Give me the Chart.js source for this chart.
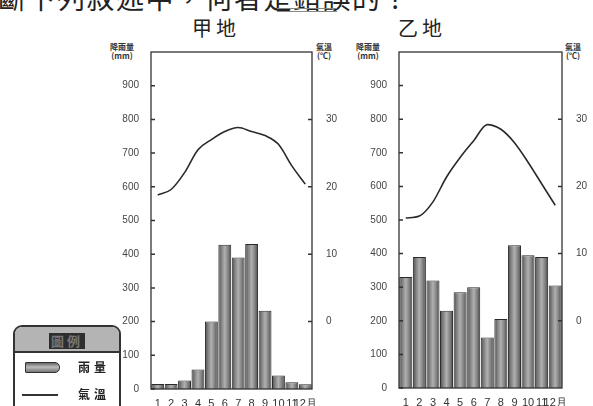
<!DOCTYPE html>
<html lang="zh-Hant">
<head>
  <meta charset="UTF-8" />
  <title>甲地 乙地 氣候圖</title>
  <script src="https://cdn.jsdelivr.net/npm/chart.js"></script>
  <style>
    body { margin: 0; width: 593px; height: 406px; position: relative; overflow: hidden;
           background: #fff; color: #222; font-family: "Noto Sans CJK TC", sans-serif; }
    .abs { position: absolute; white-space: nowrap; }
    .question { left: -2px; top: -17px; font-size: 28px; line-height: 28px; letter-spacing: 1.5px; }
    .uline { left: 277px; top: 8px; width: 60px; height: 2px; border-top: 1px solid #888; border-bottom: 1px solid #888; }
    .place { font-size: 20px; line-height: 20px; top: 18px; letter-spacing: 4px; }
    .unit { font-size: 8px; line-height: 9px; font-weight: bold; color: #333; text-align: center; }
    canvas { position: absolute; }
    .legend { left: 13px; top: 325px; width: 104px; height: 90px; border: 2px solid #333;
              border-radius: 9px; overflow: hidden; }
    .lg-head { height: 24px; background: #b4b4b4; border-bottom: 2px solid #333; text-align: center; }
    .lg-head span { display: inline-block; margin-top: 4px; background: #2e2e2e; color: #777;
                    font-size: 13px; line-height: 16px; padding: 0 2px; letter-spacing: 3px; font-weight: bold; }
    .lg-row { position: absolute; left: 0; width: 104px; height: 16px; font-size: 12px; font-weight: bold; }
    .lg-row .txt { position: absolute; left: 63px; top: -1px; letter-spacing: 4px; }
    .sw-bar { position: absolute; left: 10px; top: 3px; width: 33px; height: 9px; border: 1px solid #333;
              border-radius: 1px 5px 5px 1px; background: linear-gradient(#666, #bbb 45%, #777); }
    .sw-line { position: absolute; left: 7px; top: 8px; width: 36px; height: 0; border-top: 2px solid #333; }
  </style>
</head>
<body>
  <div class="abs question">斷下列敘述中，何者是錯誤的？</div>
  <div class="abs uline"></div>

  <div class="abs place" style="left:192px;">甲地</div>
  <div class="abs place" style="left:398px;">乙地</div>

  <div class="abs unit" style="left:110px; top:42px;">降雨量<br>(mm)</div>
  <div class="abs unit" style="left:316px; top:42px;">氣溫<br>(℃)</div>
  <div class="abs unit" style="left:356px; top:42px;">降雨量<br>(mm)</div>
  <div class="abs unit" style="left:565px; top:42px;">氣溫<br>(℃)</div>

  <canvas id="jiaChart" width="260" height="366" style="left:95px; top:40px;"></canvas>
  <canvas id="yiChart" width="248" height="366" style="left:345px; top:40px;"></canvas>

  <div class="abs legend">
    <div class="lg-head"><span>圖例</span></div>
    <div class="lg-row" style="top:32px;"><span class="sw-bar"></span><span class="txt">雨量</span></div>
    <div class="lg-row" style="top:59px;"><span class="sw-line"></span><span class="txt">氣溫</span></div>
  </div>

  <script>
    // monthly values
    const months = ['1', '2', '3', '4', '5', '6', '7', '8', '9', '10', '11', '12月'];
    const jiaRain = [15, 15, 25, 58, 200, 428, 390, 430, 232, 40, 20, 14];
    const jiaTemp = [18.8, 19.6, 22.1, 25.5, 27.0, 28.2, 28.8, 28.2, 27.6, 26.3, 23.1, 20.4];
    const yiRain = [330, 390, 320, 230, 285, 300, 150, 205, 425, 395, 390, 305];
    const yiTemp = [15.3, 15.6, 17.7, 21.4, 24.3, 26.8, 29.2, 28.5, 26.5, 23.6, 20.4, 17.2];
    const rainTicks = [0, 100, 200, 300, 400, 500, 600, 700, 800, 900];
    const tempTicks = [0, 10, 20, 30];

    // cylinder-like shading for each bar
    function barFill(ctx) {
      const chart = ctx.chart;
      const x = chart.scales.x;
      if (!x || !x.width || ctx.type !== 'data') return '#808080';
      const c = x.getPixelForValue(ctx.dataIndex);
      const w = x.width / months.length / 2;
      const g = chart.ctx.createLinearGradient(c - w, 0, c + w, 0);
      g.addColorStop(0, '#444');
      g.addColorStop(0.25, '#828282');
      g.addColorStop(0.5, '#b0b0b0');
      g.addColorStop(0.75, '#828282');
      g.addColorStop(1, '#444');
      return g;
    }

    // box round the plot and short tick marks pointing inwards
    const frame = {
      id: 'frame',
      afterDraw(chart) {
        const { ctx, chartArea: a, scales } = chart;
        ctx.save();
        ctx.strokeStyle = '#333';
        ctx.lineWidth = 1.3;
        ctx.strokeRect(a.left, a.top, a.right - a.left, a.bottom - a.top);
        ctx.lineWidth = 1.5;
        ctx.beginPath();
        rainTicks.forEach(v => {
          const p = scales.y.getPixelForValue(v);
          ctx.moveTo(a.left, p); ctx.lineTo(a.left + 4, p);
        });
        tempTicks.forEach(v => {
          const p = scales.y1.getPixelForValue(v);
          ctx.moveTo(a.right - 4, p); ctx.lineTo(a.right, p);
        });
        ctx.stroke();
        ctx.restore();
      }
    };

    function makeChart(id, rain, temp, dims) {
      const ctx = document.getElementById(id).getContext('2d');
      return new Chart(ctx, {
        type: 'bar',
        data: {
          labels: months,
          datasets: [
            {
              type: 'line',
              data: temp,
              yAxisID: 'y1',
              borderColor: '#2a2a2a',
              borderWidth: 1.6,
              pointRadius: 0,
              tension: 0.4,
              cubicInterpolationMode: 'monotone',
              order: 0
            },
            {
              data: rain,
              yAxisID: 'y',
              backgroundColor: barFill,
              borderColor: '#2a2a2a',
              borderWidth: 1,
              barPercentage: 0.96,
              categoryPercentage: 1,
              order: 1
            }
          ]
        },
        options: {
          responsive: false,
          animation: false,
          layout: { padding: { top: dims.top, left: 0, right: 0, bottom: 0 } },
          plugins: { legend: { display: false }, tooltip: { enabled: false } },
          scales: {
            x: {
              grid: { display: false },
              border: { display: false },
              ticks: { color: '#333', font: { size: 11, family: 'Liberation Sans' }, padding: 0,
                       autoSkip: false, maxRotation: 0 },
              afterFit: s => { s.height = dims.xh; }
            },
            y: {
              position: 'left',
              min: 0, max: 1000,
              grid: { display: false },
              border: { display: false },
              ticks: {
                stepSize: 100, color: '#444', padding: 4,
                font: { size: 10, family: 'Liberation Sans' },
                callback: v => (rainTicks.includes(v) ? v : '')
              },
              afterFit: s => { s.width = dims.yl; }
            },
            y1: {
              position: 'right',
              min: -10, max: 40,
              grid: { display: false },
              border: { display: false },
              ticks: {
                stepSize: 10, color: '#444', padding: 6,
                font: { size: 10, family: 'Liberation Sans' },
                callback: v => (tempTicks.includes(v) ? v : '')
              },
              afterFit: s => { s.width = dims.yr; }
            }
          }
        },
        plugins: [frame]
      });
    }

    makeChart('jiaChart', jiaRain, jiaTemp, { top: 8, xh: 17, yl: 56, yr: 43 });
    makeChart('yiChart', yiRain, yiTemp, { top: 7, xh: 18, yl: 54, yr: 31 });
  </script>
</body>
</html>
